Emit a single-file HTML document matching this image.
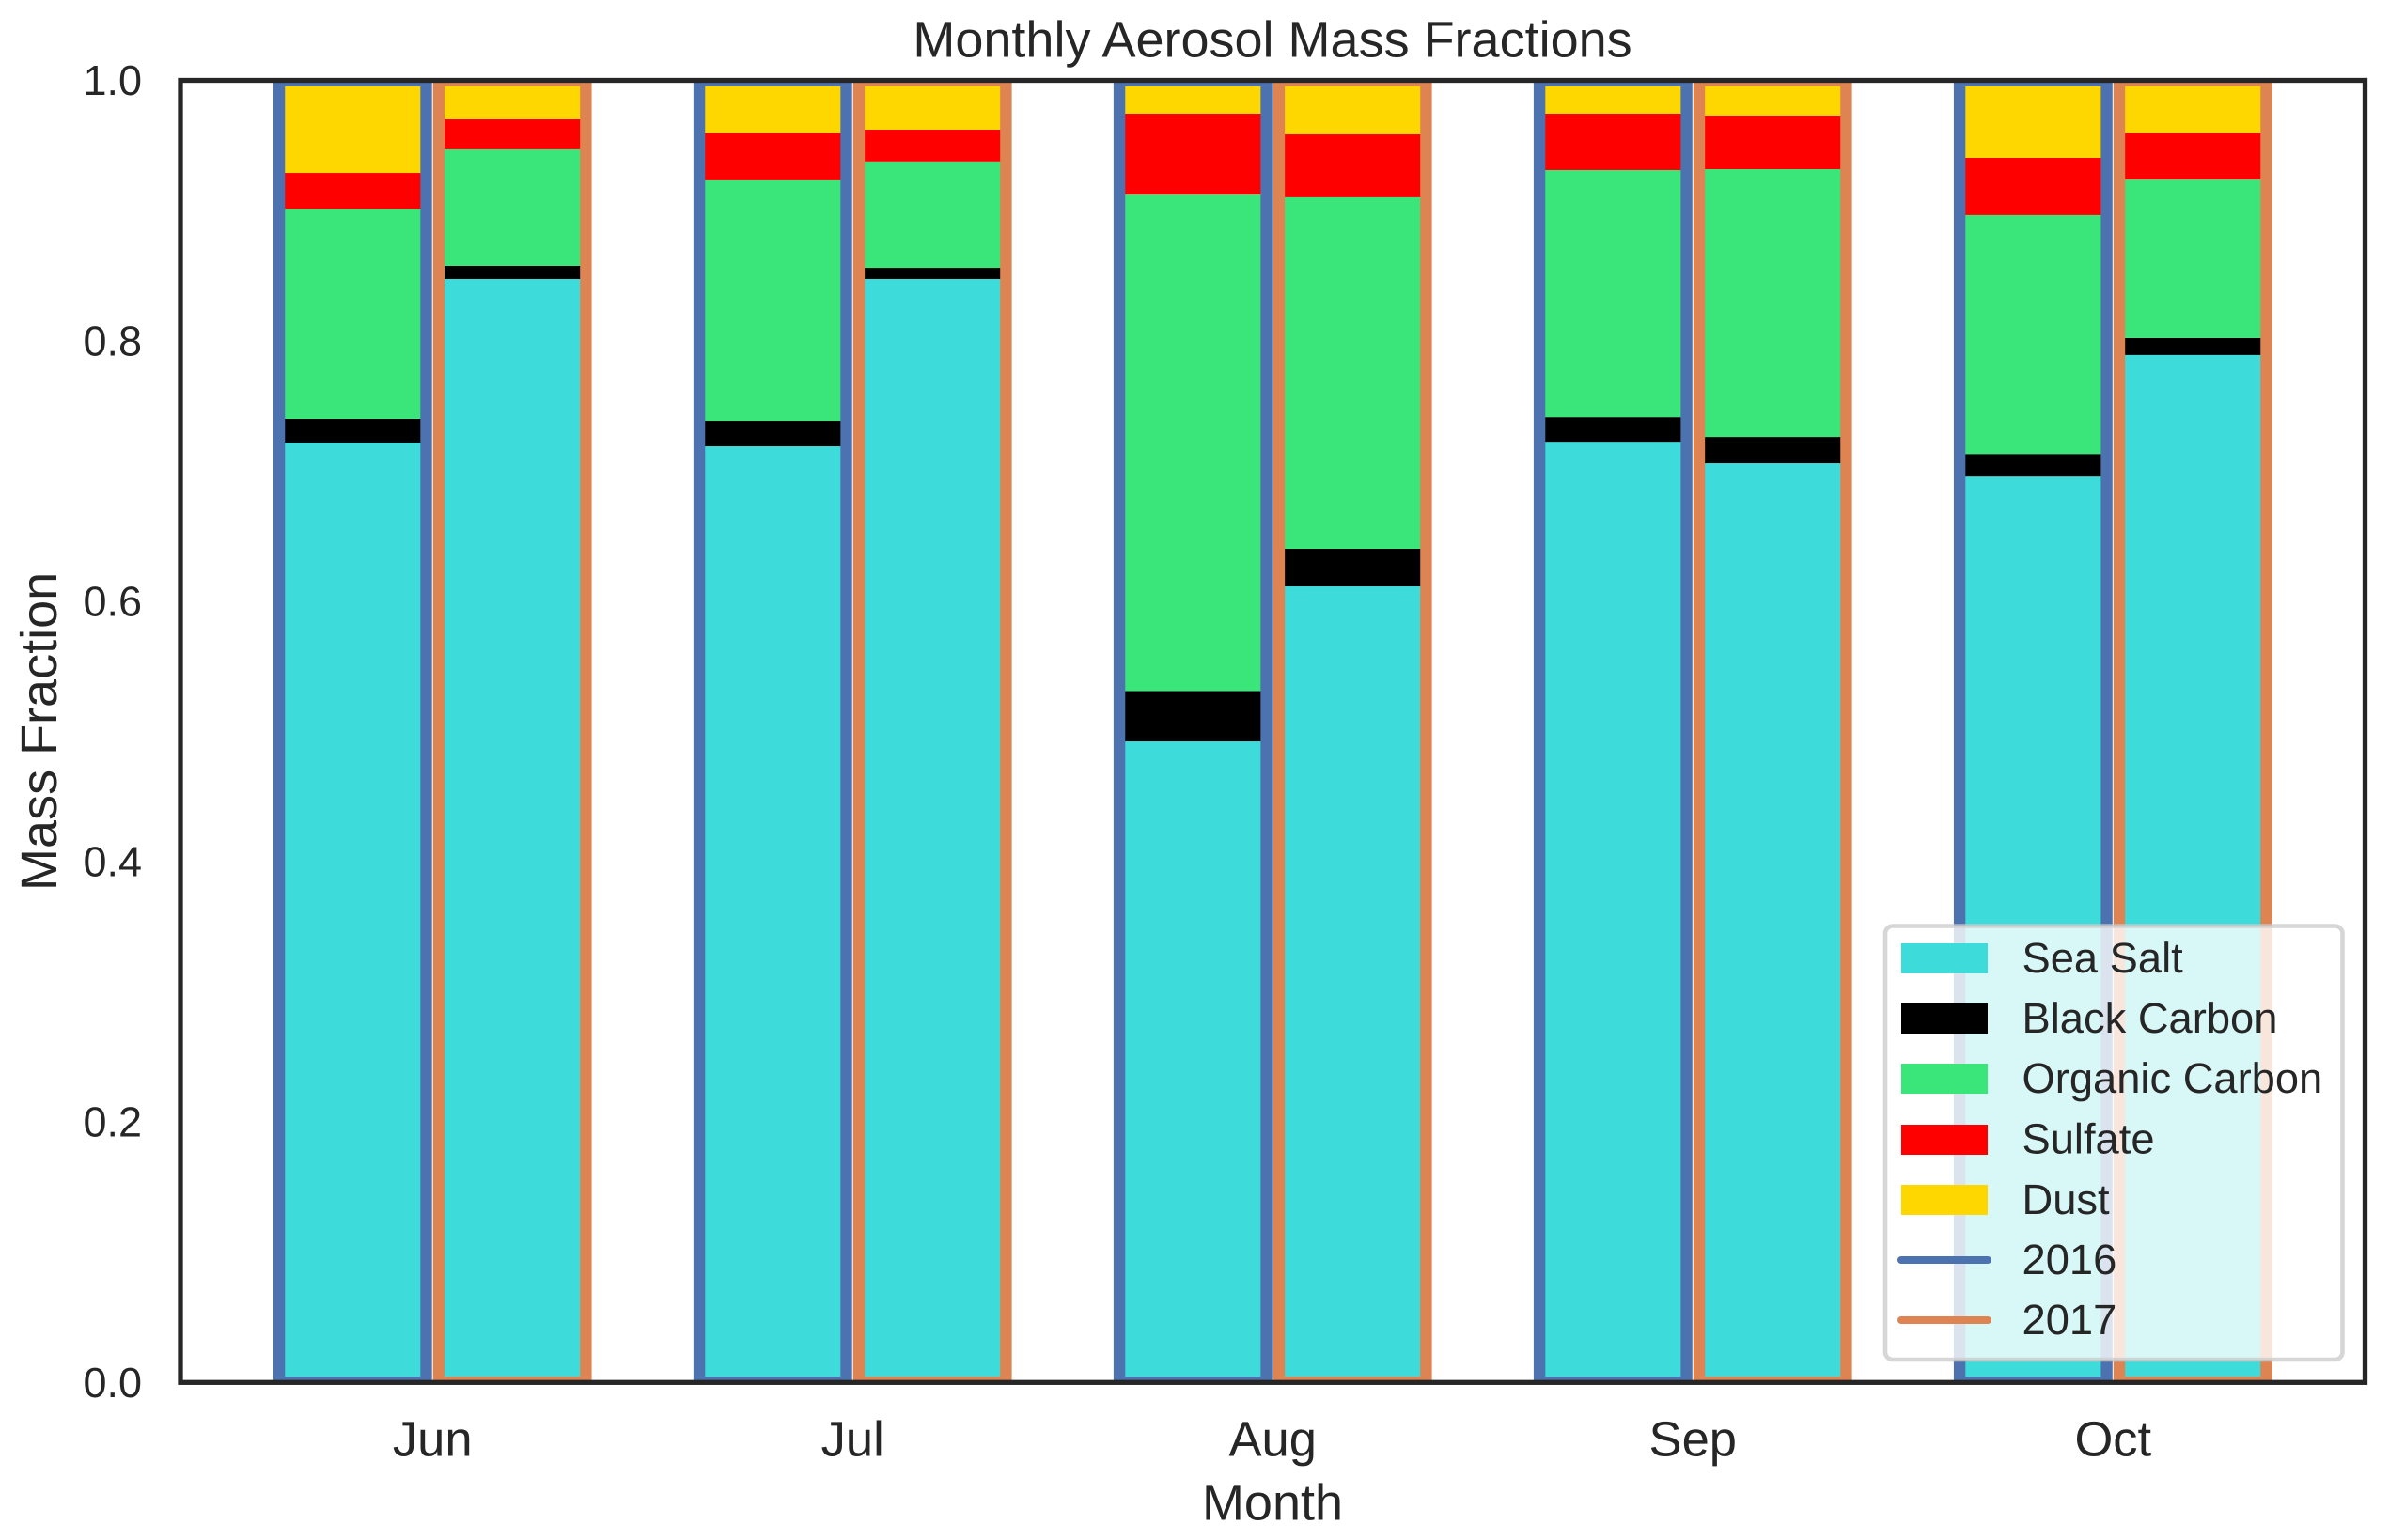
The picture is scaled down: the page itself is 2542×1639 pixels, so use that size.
<!DOCTYPE html>
<html>
<head>
<meta charset="utf-8">
<title>Monthly Aerosol Mass Fractions</title>
<style>
html,body{margin:0;padding:0;background:#fff;}
svg{display:block;}
text{font-family:"Liberation Sans",Arial,sans-serif;fill:#262626;text-rendering:geometricPrecision;}
</style>
</head>
<body>
<svg id="chart" xmlns="http://www.w3.org/2000/svg" width="2542" height="1639" viewBox="0 0 2542 1639">
  <defs>
    <clipPath id="axes-clip"><rect x="192" y="85.5" width="2324.5" height="1385.8"/></clipPath>
  </defs>
  <rect x="0" y="0" width="2542" height="1639" fill="#ffffff"/>
  <g id="bars" clip-path="url(#axes-clip)"></g>
  <rect x="192" y="85.5" width="2324.5" height="1385.8" fill="none" stroke="#262626" stroke-width="5.3"/>
  <g id="y-ticks"></g>
  <g id="x-ticks"></g>
  <text x="1354" y="60.5" font-size="54" text-anchor="middle">Monthly Aerosol Mass Fractions</text>
  <text x="1354" y="1617.5" font-size="54" text-anchor="middle">Month</text>
  <text transform="translate(60,778.4) rotate(-90)" font-size="54" text-anchor="middle">Mass Fraction</text>
  <g>
    <rect x="2006" y="985.5" width="486.5" height="461.5" rx="8" ry="8" fill="#ffffff" fill-opacity="0.8" stroke="#cccccc" stroke-opacity="0.8" stroke-width="4.6"/>
    <g>
      <rect x="2023" y="1004" width="92" height="32" fill="#3ddbd9"/>
      <text x="2151.5" y="1034.8" font-size="45.3">Sea Salt</text>
    </g>
    <g>
      <rect x="2023" y="1068" width="92" height="32" fill="#000000"/>
      <text x="2151.5" y="1098.8" font-size="45.3">Black Carbon</text>
    </g>
    <g>
      <rect x="2023" y="1132" width="92" height="32" fill="#3ae67a"/>
      <text x="2151.5" y="1163" font-size="45.3">Organic Carbon</text>
    </g>
    <g>
      <rect x="2023" y="1197" width="92" height="32" fill="#ff0000"/>
      <text x="2151.5" y="1227.5" font-size="45.3">Sulfate</text>
    </g>
    <g>
      <rect x="2023" y="1261" width="92" height="32" fill="#ffd700"/>
      <text x="2151.5" y="1291.8" font-size="45.3">Dust</text>
    </g>
    <g>
      <line x1="2023" y1="1341" x2="2115" y2="1341" stroke="#4c72b0" stroke-width="8" stroke-linecap="round"/>
      <text x="2151.5" y="1356" font-size="45.3">2016</text>
    </g>
    <g>
      <line x1="2023" y1="1405" x2="2115" y2="1405" stroke="#dd8452" stroke-width="8" stroke-linecap="round"/>
      <text x="2151.5" y="1420" font-size="45.3">2017</text>
    </g>
  </g>
</svg>
<script>
const months = ["Jun", "Jul", "Aug", "Sep", "Oct"];
const yTickValues = [0, 0.2, 0.4, 0.6, 0.8, 1];
const yTickLabels = ["0.0", "0.2", "0.4", "0.6", "0.8", "1.0"];
const seaSalt2016 = [0.7218, 0.7189, 0.4923, 0.7224, 0.6957];
const blackCarbon2016 = [0.0181, 0.0195, 0.0387, 0.0188, 0.0173];
const organicCarbon2016 = [0.1616, 0.1848, 0.3813, 0.1899, 0.1835];
const sulfate2016 = [0.0274, 0.0361, 0.0621, 0.0433, 0.0440];
const dust2016 = [0.0711, 0.0407, 0.0256, 0.0256, 0.0595];
const seaSalt2017 = [0.8474, 0.8474, 0.6114, 0.7059, 0.7890];
const blackCarbon2017 = [0.0101, 0.0086, 0.0289, 0.0202, 0.0130];
const organicCarbon2017 = [0.0895, 0.0817, 0.2699, 0.2057, 0.1219];
const sulfate2017 = [0.0231, 0.0245, 0.0483, 0.0412, 0.0354];
const dust2017 = [0.0299, 0.0378, 0.0415, 0.0270, 0.0407];

const SVG_NS = "http://www.w3.org/2000/svg";
const xScale = function (m) { return 192 + (m + 0.6) * 447.02; };
const yScale = function (v) { return 1471.3 - v * 1385.8; };
const barWidthUnits = 0.35;
const barOffsetUnits = 0.19;

const segmentNames = ["sea-salt", "black-carbon", "organic-carbon", "sulfate", "dust"];
const segmentColors = ["#3ddbd9", "#000000", "#3ae67a", "#ff0000", "#ffd700"];
const yearGroups = [
  { year: "2016", sign: -1, outline: "#4c72b0", series: [seaSalt2016, blackCarbon2016, organicCarbon2016, sulfate2016, dust2016] },
  { year: "2017", sign: 1, outline: "#dd8452", series: [seaSalt2017, blackCarbon2017, organicCarbon2017, sulfate2017, dust2017] }
];

const barsLayer = document.getElementById("bars");
const barPixelWidth = barWidthUnits * 447.02;

yearGroups.forEach(function (group) {
  months.forEach(function (month, m) {
    const left = xScale(m + group.sign * barOffsetUnits) - barPixelWidth / 2;
    let running = 0;
    group.series.forEach(function (values, s) {
      const bottom = running;
      running += values[m];
      const seg = document.createElementNS(SVG_NS, "rect");
      seg.setAttribute("x", left);
      seg.setAttribute("y", yScale(running));
      seg.setAttribute("width", barPixelWidth);
      seg.setAttribute("height", yScale(bottom) - yScale(running));
      seg.setAttribute("fill", segmentColors[s]);
      
      
      barsLayer.appendChild(seg);
    });
    const outline = document.createElementNS(SVG_NS, "rect");
    outline.setAttribute("x", left);
    outline.setAttribute("y", yScale(running));
    outline.setAttribute("width", barPixelWidth);
    outline.setAttribute("height", yScale(0) - yScale(running));
    outline.setAttribute("fill", "none");
    outline.setAttribute("stroke", group.outline);
    outline.setAttribute("stroke-width", "12.4");
    
    
    barsLayer.appendChild(outline);
  });
});

const yTicksLayer = document.getElementById("y-ticks");
yTickValues.forEach(function (value, i) {
  const label = document.createElementNS(SVG_NS, "text");
  label.setAttribute("x", 151);
  label.setAttribute("y", yScale(value) + 15.6);
  label.setAttribute("font-size", "45");
  label.setAttribute("text-anchor", "end");
  
  
  label.textContent = yTickLabels[i];
  yTicksLayer.appendChild(label);
});

const xTicksLayer = document.getElementById("x-ticks");
months.forEach(function (month, m) {
  const label = document.createElementNS(SVG_NS, "text");
  label.setAttribute("x", xScale(m));
  label.setAttribute("y", 1549.5);
  label.setAttribute("font-size", "52.5");
  label.setAttribute("text-anchor", "middle");
  
  
  label.textContent = month;
  xTicksLayer.appendChild(label);
});
</script>
</body>
</html>
